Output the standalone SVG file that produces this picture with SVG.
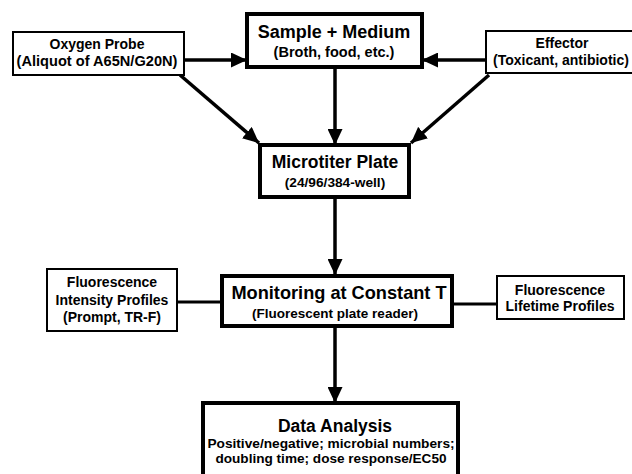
<svg xmlns="http://www.w3.org/2000/svg" width="632" height="474" viewBox="0 0 632 474">
  <defs>
    <marker id="head" markerUnits="userSpaceOnUse" markerWidth="17" markerHeight="15" refX="16" refY="7.5" orient="auto">
      <path d="M0,0 L16,7.5 L0,15 Z" fill="#000"/>
    </marker>
    <style>
      text { font-family: "Liberation Sans", Arial, sans-serif; font-weight: bold; fill: #000; text-anchor: middle; }
      .main { fill: #fff; stroke: #000; stroke-width: 4; }
      .side { fill: #fff; stroke: #000; stroke-width: 2; }
      .t1 { font-size: 18px; }
      .t2 { font-size: 13.7px; }
      .t3 { font-size: 14px; }
      .link { stroke: #000; stroke-width: 3; fill: none; }
      .arrow { stroke: #000; stroke-width: 3.5; fill: none; marker-end: url(#head); }
    </style>
  </defs>
  <rect width="632" height="474" fill="#fff"/>

  <g id="connectors">
    <line class="arrow" x1="184" y1="60" x2="247" y2="60"/>
    <line class="arrow" x1="486" y1="60" x2="422" y2="60"/>
    <line class="arrow" x1="335" y1="67" x2="335" y2="145"/>
    <line class="arrow" x1="180" y1="75" x2="259" y2="143"/>
    <line class="arrow" x1="489" y1="75" x2="411" y2="143"/>
    <line class="arrow" x1="335" y1="197" x2="335" y2="275"/>
    <line class="arrow" x1="335" y1="326" x2="335" y2="403"/>
    <line class="link" x1="177" y1="302" x2="222" y2="302"/>
    <line class="link" x1="452" y1="304" x2="497" y2="304"/>
  </g>

  <g id="oxygen-probe">
    <rect class="side" x="13" y="32" width="171" height="43"/>
    <text class="t3" x="97" y="49">Oxygen Probe</text>
    <text class="t3" x="97" y="66" style="font-size:14.6px">(Aliquot of A65N/G20N)</text>
  </g>

  <g id="sample-medium">
    <rect class="main" x="247" y="14" width="175" height="53"/>
    <text class="t1" x="334" y="38">Sample + Medium</text>
    <text class="t2" x="334" y="57" style="font-size:14.5px">(Broth, food, etc.)</text>
  </g>

  <g id="effector">
    <rect class="side" x="486" y="31" width="150" height="42"/>
    <text class="t3" x="562" y="48">Effector</text>
    <text class="t3" x="561" y="65">(Toxicant, antibiotic)</text>
  </g>

  <g id="microtiter-plate">
    <rect class="main" x="260" y="145" width="149" height="52"/>
    <text class="t1" x="335" y="168" style="font-size:17.5px">Microtiter Plate</text>
    <text class="t2" x="335" y="187">(24/96/384-well)</text>
  </g>

  <g id="intensity-profiles">
    <rect class="side" x="47" y="269" width="130" height="62"/>
    <text class="t3" x="112" y="287">Fluorescence</text>
    <text class="t3" x="112" y="305">Intensity Profiles</text>
    <text class="t3" x="112" y="322">(Prompt, TR-F)</text>
  </g>

  <g id="monitoring">
    <rect class="main" x="222" y="276" width="230" height="50"/>
    <text class="t1" x="339" y="299" style="font-size:18.2px">Monitoring at Constant T</text>
    <text class="t2" x="335" y="318" style="font-size:13.5px">(Fluorescent plate reader)</text>
  </g>

  <g id="lifetime-profiles">
    <rect class="side" x="497" y="276" width="127" height="43"/>
    <text class="t3" x="560" y="295">Fluorescence</text>
    <text class="t3" x="560" y="311">Lifetime Profiles</text>
  </g>

  <g id="data-analysis">
    <rect class="main" x="203" y="403" width="255" height="80"/>
    <text class="t1" x="335" y="432" style="font-size:17.5px">Data Analysis</text>
    <text class="t2" x="331" y="448">Positive/negative; microbial numbers;</text>
    <text class="t2" x="331" y="463" style="font-size:13.6px">doubling time; dose response/EC50</text>
  </g>
</svg>
